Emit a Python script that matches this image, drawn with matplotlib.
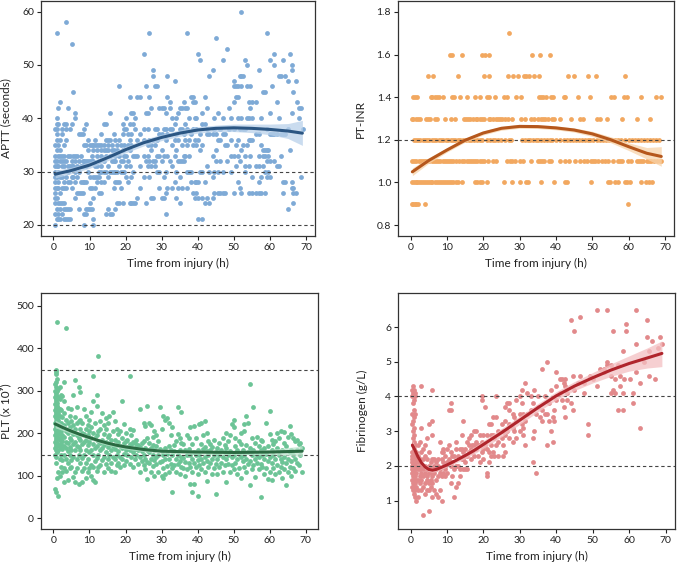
import numpy as np
import matplotlib
matplotlib.use("Agg")
import matplotlib.pyplot as plt

plt.rcParams['font.family'] = ['Lato', 'DejaVu Sans']

# ---- APTT (seconds): (time, [values at that time])
aptt_groups = [
    (0.4, [20, 22, 24, 25, 26, 27, 28, 29, 30, 31, 32, 33, 35, 38]),
    (0.9, [21, 23, 25, 27, 29, 31, 32, 34, 36, 37, 38, 39, 40, 56]),
    (1.4, [21, 22, 24, 27, 28, 30, 31, 33, 35, 39, 42]),
    (1.9, [21, 23, 24, 26, 29, 32, 33, 34, 36, 43]),
    (2.5, [22, 24, 27, 29, 31, 32, 33, 37, 38]),
    (3.0, [21, 23, 24, 27, 28, 31, 32, 33, 35, 39]),
    (3.6, [21, 23, 27, 29, 32, 36, 38, 39, 58]),
    (4.1, [21, 23, 28, 30, 31, 33, 42]),
    (4.6, [21, 23, 28, 31, 33, 38]),
    (5.1, [27, 29, 31, 32, 39, 54]),
    (5.5, [29, 31, 33, 45]),
    (6.1, [25, 28, 30, 32, 33, 40, 41]),
    (6.6, [26, 29, 31, 33]),
    (7.1, [23, 26, 30, 32, 37]),
    (7.6, [26, 28, 31, 33, 37]),
    (8.1, [26, 28, 31, 32, 37]),
    (8.6, [20, 22, 28, 32, 35, 38]),
    (9.1, [22, 23, 28, 31, 32, 35, 39]),
    (9.6, [23, 30, 32, 34, 36]),
    (10.1, [24, 23, 27, 29, 32, 35]),
    (10.6, [23, 27, 32, 33, 35]),
    (11.1, [20, 21, 25, 29, 32, 34, 35]),
    (11.6, [27, 29, 31, 35, 36]),
    (12.1, [28, 29, 31, 33, 34, 35]),
    (12.6, [26, 29, 30, 32, 35]),
    (13.2, [26, 28, 30, 31, 33, 34, 35, 37]),
    (14.0, [28, 30, 32, 34, 35, 39]),
    (14.6, [22, 30, 33, 34, 36, 39]),
    (15.1, [23, 29, 31, 34, 35, 36]),
    (15.6, [22, 30, 33, 36, 41]),
    (16.1, [22, 30, 32, 34, 35]),
    (16.7, [27, 30, 32, 34, 37]),
    (17.2, [23, 28, 30, 32, 33, 36]),
    (17.6, [24, 28, 30, 34, 35]),
    (18.1, [24, 28, 31, 33, 36, 46]),
    (18.7, [27, 30, 32, 35]),
    (19.2, [24, 30, 32, 34, 37, 39]),
    (19.6, [30, 33, 35, 38]),
    (20.1, [29, 31, 33, 38, 40]),
    (20.6, [28, 32, 35, 37]),
    (21.1, [24, 31, 34, 36, 39, 44]),
    (21.6, [24, 29, 35, 37, 41]),
    (22.1, [24, 30, 33, 39, 41]),
    (22.7, [24, 33, 38, 40]),
    (23.2, [25, 33, 36, 44]),
    (24.1, [27, 31, 37, 44]),
    (25.0, [29, 33, 36, 38, 52]),
    (25.6, [24, 32, 41, 46]),
    (26.1, [31, 33, 35, 38, 41]),
    (26.6, [29, 32, 36, 44, 56]),
    (27.1, [25, 31, 34, 35, 42]),
    (27.6, [25, 32, 36, 48, 49]),
    (28.1, [31, 32, 35, 38, 46]),
    (28.7, [30, 33, 36, 38, 46]),
    (29.2, [27, 30, 33, 37, 42]),
    (30.0, [25, 32, 34, 37, 42]),
    (30.6, [25, 29, 33, 38, 42]),
    (31.1, [22, 26, 30, 36, 38, 41]),
    (31.6, [27, 33, 37, 44, 48]),
    (32.2, [32, 38, 42, 43]),
    (33.0, [27, 31, 35, 38, 40]),
    (33.6, [28, 33, 36, 39, 47]),
    (34.1, [25, 30, 34, 37, 40]),
    (34.6, [27, 32, 36, 41]),
    (35.1, [24, 29, 32, 38, 42]),
    (35.6, [27, 32, 35, 38, 42]),
    (36.1, [32, 33, 37, 43]),
    (36.6, [33, 36, 39, 42]),
    (37.1, [27, 30, 35, 38, 42, 56]),
    (37.6, [30, 33, 36, 40]),
    (38.1, [28, 30, 37, 44]),
    (38.6, [26, 35, 38, 43, 44]),
    (39.1, [25, 28, 36, 40, 43]),
    (39.6, [26, 28, 35, 38, 40]),
    (40.1, [21, 25, 28, 36, 52]),
    (40.6, [30, 34, 37, 51]),
    (41.1, [21, 25, 30, 35, 39, 41]),
    (42.1, [24, 28, 39, 44]),
    (42.6, [25, 31, 37, 38, 42]),
    (43.1, [24, 30, 37, 48]),
    (44.1, [25, 29, 33, 37, 49]),
    (44.6, [26, 30, 38, 40]),
    (45.1, [32, 34, 37, 55]),
    (45.6, [26, 30, 36, 41]),
    (46.1, [26, 32, 36, 38]),
    (47.1, [26, 30, 37, 40, 51]),
    (47.6, [26, 35, 37]),
    (48.1, [32, 35, 53]),
    (48.6, [38, 42]),
    (49.1, [30, 33, 36, 40]),
    (50.0, [26, 33, 38, 43, 46, 47]),
    (50.6, [31, 35, 44, 46]),
    (51.1, [28, 33, 36, 40, 44, 46]),
    (51.6, [27, 32, 38, 48]),
    (52.1, [26, 34, 40, 46, 48, 60]),
    (52.6, [35, 38, 48]),
    (53.1, [30, 31, 33, 38, 51]),
    (53.6, [35, 40, 46, 50]),
    (54.1, [26, 31, 36, 40, 43]),
    (54.6, [33, 36, 42, 46]),
    (55.1, [26, 29, 36, 40, 43]),
    (56.1, [26, 31, 37, 43]),
    (57.1, [26, 28, 31, 33, 37, 49]),
    (57.6, [26, 29, 35, 40]),
    (58.1, [31, 33, 34, 45]),
    (58.6, [26, 30, 33, 34, 45]),
    (59.1, [29, 32, 34, 38, 56]),
    (59.6, [30, 33, 34]),
    (60.1, [29, 32, 37, 41, 51]),
    (60.6, [37, 46]),
    (61.1, [32, 37, 50, 52]),
    (62.0, [31, 37, 43]),
    (62.6, [31, 40, 48]),
    (63.1, [33, 37, 48]),
    (63.6, [26, 28, 37, 51]),
    (64.1, [28, 37, 48]),
    (65.0, [23, 38, 47]),
    (65.6, [34, 52]),
    (66.0, [27, 28, 41, 49, 50]),
    (66.5, [24, 26, 27, 45]),
    (67.1, [26, 47]),
    (67.6, [43]),
    (68.1, [40, 42]),
    (68.6, [29, 42]),
    (69.1, [38]),
]
aptt_fit_t = [0.5, 5, 10, 15, 20, 25, 30, 35, 40, 45, 50, 55, 60, 65, 69]
aptt_fit = [29.5, 30.2, 31.2, 32.6, 34.1, 35.4, 36.4, 37.2, 37.8, 38.1, 38.2, 38.1, 37.9, 37.6, 37.2]
aptt_lo = [28.8, 29.6, 30.6, 32.0, 33.5, 34.8, 35.8, 36.6, 37.2, 37.5, 37.5, 37.3, 36.9, 36.2, 34.9]
aptt_hi = [30.2, 30.8, 31.8, 33.2, 34.7, 36.0, 37.0, 37.8, 38.4, 38.7, 38.9, 38.9, 38.9, 39.0, 39.6]

# ---- PT-INR: (value, [times]) -- values are reported on a 0.1 grid
inr_rows = [
    (1.7, [27.1]),
    (1.6, [10.8, 11.4, 14.2, 19.8, 20.4, 21.6, 33.4, 35.6, 38.3]),
    (1.5, [4.7, 6.2, 13.0, 20.1, 21.7, 26.7, 28.2, 29.7, 31.1, 31.8, 32.5, 34.0, 35.3,
           43.4, 45.1, 48.8, 51.1, 59.1]),
    (1.4, [0.6, 1.2, 1.8, 5.5, 5.9, 6.6, 7.2, 7.8, 8.8, 11.4, 11.9, 13.6, 15.4, 17.7,
           19.1, 21.1, 21.6, 23.3, 25.8, 26.5, 28.9, 30.5, 35.4, 35.9, 36.4, 37.2, 38.6,
           39.2, 42.1, 42.6, 46.2, 49.5, 55.3, 56.0, 58.8, 59.5, 63.4, 67.6, 68.9]),
    (1.3, [0.3, 0.8, 1.5, 2.1, 2.6, 4.2, 4.8, 5.4, 6.7, 7.2, 9.6, 11.2, 12.3, 14.7,
           15.3, 15.8, 16.5, 17.2, 17.9, 18.4, 19.0, 19.6, 20.3, 21.5, 22.0, 22.8, 23.4,
           24.1, 24.7, 25.3, 26.0, 26.8, 27.9, 30.5, 31.6, 33.2, 34.0, 35.2, 35.8, 36.5,
           37.1, 37.8, 38.8, 39.5, 41.2, 44.2, 46.7, 47.4, 51.3, 52.0, 54.0, 58.3, 62.4, 66.0]),
    (1.2, [0.9, 1.5, 2.0, 2.6, 3.3, 4.0, 4.6, 5.2, 5.9, 6.5, 7.1, 7.8, 8.4, 9.0, 9.7,
           10.3, 11.0, 11.6, 12.3, 13.0, 13.6, 14.5, 15.2, 16.0, 16.6, 17.5, 18.3, 19.0,
           19.8, 21.0, 21.8, 22.6, 23.3, 24.2, 25.0, 26.0, 27.0, 27.7, 30.8, 31.5, 32.2,
           33.0, 33.7, 34.5, 35.2, 36.0, 36.8, 37.5, 38.3, 39.0, 40.0, 41.0, 42.3, 43.0,
           43.8, 44.7, 45.5, 46.3, 47.2, 48.0, 48.7, 49.5, 50.3, 51.2, 52.0, 53.0, 53.8,
           54.6, 55.5, 56.3, 57.2, 58.0, 59.0, 60.0, 61.0, 61.8, 62.6, 63.4, 64.2, 65.0,
           65.8, 66.7, 67.5, 68.3]),
    (1.1, [0.4, 1.0, 1.6, 2.2, 2.8, 3.4, 4.0, 4.6, 5.2, 5.8, 6.4, 7.0, 7.6, 8.2, 8.8,
           9.4, 10.0, 10.6, 11.2, 11.8, 12.6, 13.4, 14.1, 14.8, 15.4, 16.0, 16.6, 17.2,
           17.8, 18.4, 19.0, 19.6, 20.3, 21.2, 22.8, 23.5, 26.6, 27.3, 28.0, 28.8, 30.2,
           31.0, 33.2, 35.0, 35.6, 36.2, 36.8, 38.0, 38.7, 41.2, 42.6, 43.6, 45.3, 46.6,
           47.8, 48.5, 49.6, 50.1, 50.8, 51.5, 52.8, 53.5, 54.3, 55.8, 57.0, 57.6, 58.2,
           59.8, 60.7, 62.2, 62.8, 63.5, 64.0, 65.0, 65.6, 66.2, 67.1, 67.8, 68.6, 69.0]),
    (1.0, [0.4, 0.9, 1.4, 1.9, 2.4, 2.9, 3.4, 3.9, 4.4, 5.0, 5.5, 6.0, 6.6, 7.2, 7.7,
           8.3, 8.8, 9.4, 10.0, 10.6, 11.2, 11.8, 12.4, 13.0, 14.2, 17.7, 18.3, 19.0,
           19.6, 21.0, 25.6, 27.8, 30.0, 31.7, 32.3, 35.8, 39.6, 42.4, 43.0, 49.6, 54.3,
           55.0, 56.3, 57.0, 59.0, 59.7, 60.3, 63.5, 64.9, 65.7, 66.5]),
    (0.9, [0.3, 0.7, 1.1, 1.6, 2.1, 4.1, 59.8]),
]
inr_fit_t = [0.5, 5, 10, 15, 20, 25, 30, 35, 40, 45, 50, 55, 60, 65, 69]
inr_fit = [1.05, 1.103, 1.152, 1.198, 1.232, 1.254, 1.263, 1.262, 1.256, 1.246, 1.228, 1.201, 1.168, 1.137, 1.122]
inr_lo = [1.032, 1.09, 1.142, 1.189, 1.223, 1.245, 1.254, 1.253, 1.247, 1.236, 1.216, 1.187, 1.150, 1.110, 1.076]
inr_hi = [1.068, 1.116, 1.162, 1.207, 1.241, 1.263, 1.272, 1.271, 1.265, 1.256, 1.240, 1.215, 1.186, 1.164, 1.168]

# ---- PLT (x10^9): (time, [values])
plt_groups = [
    (0.4, [68, 150, 165, 180, 195, 210, 225, 240, 255, 270, 285, 300, 315]),
    (0.6, [62, 130, 160, 175, 190, 205, 220, 235, 250, 262, 275, 290, 320, 340, 350]),
    (0.8, [145, 170, 185, 200, 215, 230, 245, 258, 268, 280, 295, 310, 345]),
    (1.0, [95, 155, 178, 192, 208, 222, 238, 252, 265, 272, 300, 328, 462]),
    (1.3, [52, 110, 160, 172, 188, 200, 215, 232, 248, 260, 285, 305]),
    (1.7, [100, 140, 168, 185, 198, 212, 240, 258, 280, 310]),
    (2.1, [120, 150, 175, 190, 205, 225, 255, 290]),
    (2.5, [108, 138, 162, 182, 195, 215, 238, 288]),
    (3.0, [85, 118, 150, 170, 192, 220, 248, 275, 320]),
    (3.5, [112, 140, 165, 180, 205, 232, 447]),
    (4.0, [90, 130, 158, 178, 200, 225, 260]),
    (4.5, [118, 150, 168, 190, 215, 240]),
    (5.0, [120, 138, 160, 185, 205, 228, 258]),
    (5.5, [98, 145, 175, 198, 220, 290]),
    (6.0, [85, 110, 160, 180, 210, 238, 326]),
    (6.5, [118, 140, 170, 195, 225, 262]),
    (7.0, [82, 150, 168, 190, 228, 310]),
    (7.5, [130, 160, 185, 210, 232, 298]),
    (8.0, [85, 112, 142, 175, 200, 225]),
    (8.5, [118, 148, 180, 198, 258]),
    (9.0, [95, 130, 160, 185, 210, 240]),
    (9.5, [110, 140, 172, 195, 220]),
    (10.0, [118, 155, 180, 205, 232]),
    (10.5, [100, 125, 160, 190, 215, 250]),
    (11.0, [90, 120, 148, 175, 200, 275, 335]),
    (11.5, [85, 135, 165, 190, 225]),
    (12.0, [112, 142, 170, 195, 265, 290]),
    (12.4, [120, 150, 182, 205, 383]),
    (13.0, [125, 160, 178, 210, 228]),
    (13.5, [138, 165, 185, 248]),
    (14.0, [110, 145, 172, 198, 220]),
    (14.5, [128, 155, 180, 210, 235]),
    (15.0, [118, 140, 168, 192, 225]),
    (15.5, [150, 175, 195, 240]),
    (16.0, [112, 130, 160, 185]),
    (16.5, [145, 170, 205, 250]),
    (17.0, [108, 140, 162, 185, 228]),
    (17.5, [125, 150, 172, 210]),
    (18.0, [130, 158, 180, 198]),
    (18.5, [120, 145, 170, 205]),
    (19.0, [140, 165, 190, 275]),
    (19.5, [125, 152, 178, 222]),
    (20.0, [135, 160, 182, 200]),
    (20.5, [150, 168, 185]),
    (21.2, [128, 160, 175, 210, 334]),
    (21.6, [145, 172, 195]),
    (22.0, [120, 155, 180, 208]),
    (22.5, [140, 162, 178]),
    (23.0, [150, 168, 185]),
    (23.5, [128, 160, 172]),
    (24.0, [110, 145, 168, 258]),
    (24.5, [135, 158, 178]),
    (25.0, [125, 150, 182, 225]),
    (25.5, [115, 140, 165, 218]),
    (26.0, [92, 132, 160, 190, 265]),
    (26.5, [130, 155, 178, 225]),
    (27.0, [110, 140, 165, 220]),
    (27.5, [122, 150, 172, 192]),
    (28.0, [100, 138, 160, 205]),
    (28.5, [128, 145, 170, 195]),
    (29.0, [110, 150, 182]),
    (29.5, [132, 162, 262]),
    (30.0, [100, 135, 158, 210]),
    (30.5, [95, 118, 150, 240]),
    (31.0, [105, 140, 165, 232]),
    (31.5, [122, 152, 235]),
    (32.0, [110, 140, 170, 225]),
    (32.5, [128, 160, 195]),
    (33.0, [62, 118, 148, 215]),
    (33.5, [125, 158, 172]),
    (34.0, [110, 140, 182]),
    (34.5, [128, 150, 198, 262]),
    (35.0, [105, 135, 160, 188]),
    (35.5, [120, 145, 178, 250]),
    (36.0, [118, 142, 175]),
    (36.5, [100, 132, 160]),
    (37.0, [115, 150, 195]),
    (37.5, [130, 162, 188]),
    (38.0, [82, 120, 148, 215]),
    (38.5, [62, 108, 140, 175]),
    (39.0, [80, 130, 155, 218]),
    (39.5, [120, 150, 190]),
    (40.0, [52, 105, 138, 160]),
    (40.5, [125, 150, 222]),
    (41.0, [115, 140, 175, 225]),
    (41.5, [130, 162, 195]),
    (42.0, [110, 145, 168, 230]),
    (42.5, [88, 135, 158, 200]),
    (43.0, [120, 150, 182]),
    (43.5, [130, 160, 175]),
    (44.0, [105, 140, 168]),
    (44.5, [118, 150, 185]),
    (45.0, [57, 128, 155]),
    (45.5, [105, 140, 165]),
    (46.0, [120, 150, 178]),
    (46.5, [130, 160]),
    (47.0, [110, 145, 188]),
    (47.5, [125, 155, 172]),
    (48.0, [85, 140, 165, 200]),
    (48.5, [128, 150, 182]),
    (49.0, [110, 158, 195]),
    (49.5, [125, 145, 222]),
    (50.0, [115, 150, 215, 232]),
    (50.5, [130, 170, 188]),
    (51.0, [105, 140, 160]),
    (51.5, [118, 152, 182]),
    (52.0, [95, 145, 175, 200]),
    (52.5, [135, 160]),
    (53.0, [120, 150, 205, 222]),
    (53.5, [110, 140, 172, 240]),
    (54.0, [128, 155, 225]),
    (54.6, [78, 135, 165, 315]),
    (55.0, [115, 148, 188]),
    (55.5, [125, 160, 262]),
    (56.0, [98, 140, 178]),
    (56.5, [130, 150, 192]),
    (57.0, [115, 145, 170]),
    (57.6, [50, 128, 160, 185]),
    (58.0, [120, 150, 182]),
    (58.5, [105, 140, 165]),
    (59.0, [118, 152, 225]),
    (59.5, [92, 135, 170]),
    (60.0, [110, 145, 198, 252]),
    (60.5, [90, 130, 160, 185]),
    (61.0, [118, 150, 175]),
    (61.5, [105, 140, 182]),
    (62.0, [125, 165, 200]),
    (62.5, [110, 150, 190]),
    (63.0, [120, 140, 205]),
    (63.5, [95, 132, 160]),
    (64.0, [115, 145, 178, 202]),
    (64.5, [78, 130, 170]),
    (65.0, [108, 140, 192]),
    (65.5, [120, 155, 218]),
    (66.0, [100, 135, 160, 198]),
    (66.5, [118, 148, 188]),
    (67.0, [112, 140, 182]),
    (67.5, [130, 160, 185]),
    (68.0, [125, 175]),
    (68.5, [150, 178]),
    (69.0, [110, 165]),
]
plt_fit_t = [0.5, 2.5, 5, 7.5, 10, 12.5, 15, 17.5, 20, 25, 30, 35, 40, 50, 60, 69]
plt_fit = [222, 214, 205, 197, 190, 183, 177, 172, 168, 162, 158, 157, 156, 155, 156, 158]
plt_lo = [213, 207, 199, 192, 185, 178, 172, 167, 163, 157, 153, 152, 151, 150, 150, 146]
plt_hi = [231, 221, 211, 202, 195, 188, 182, 177, 173, 167, 163, 162, 161, 160, 162, 170]

# ---- Fibrinogen (g/L): (time, [values])
fib_groups = [
    (0.3, [1.4, 1.6, 1.8, 1.9, 2.0, 2.1, 2.2, 2.3, 2.4, 3.2, 3.5, 4.0, 4.2]),
    (0.6, [1.3, 1.5, 1.7, 1.85, 1.95, 2.05, 2.15, 2.3, 2.6, 2.8, 3.0, 3.3, 3.8, 4.1, 4.3]),
    (0.9, [1.2, 1.4, 1.6, 1.8, 1.9, 2.0, 2.2, 2.4, 2.5, 2.7, 2.9, 3.1, 3.4, 3.6, 3.9, 4.2]),
    (1.2, [1.1, 1.3, 1.5, 1.7, 1.9, 2.0, 2.1, 2.3, 2.6, 3.5, 4.0, 4.1]),
    (1.6, [1.0, 1.4, 1.6, 1.8, 2.0, 2.2, 2.4]),
    (2.0, [1.1, 1.3, 1.6, 1.9, 2.1, 2.3, 2.6]),
    (2.5, [1.5, 1.7, 1.9, 2.0, 2.2, 2.7]),
    (3.0, [1.3, 1.6, 1.8, 2.0, 2.4, 3.1, 4.3]),
    (3.5, [0.6, 1.4, 1.7, 1.9, 2.2, 2.5]),
    (4.0, [1.2, 1.5, 1.8, 2.0, 2.3, 2.6]),
    (4.5, [1.3, 1.6, 1.7, 1.9, 2.2, 2.8]),
    (5.0, [0.7, 1.3, 1.5, 1.8, 2.0, 2.4, 3.2]),
    (5.5, [1.4, 1.6, 1.9, 2.1]),
    (6.0, [1.1, 1.5, 1.7, 1.8, 2.2, 2.9, 3.3, 4.2]),
    (6.5, [1.3, 1.8, 2.0, 2.2]),
    (7.0, [1.2, 1.6, 1.9, 2.1]),
    (7.5, [1.1, 1.7, 2.0, 2.2]),
    (8.0, [1.3, 1.8, 1.9, 2.7]),
    (8.5, [1.0, 1.7, 2.2, 2.4]),
    (9.0, [1.8, 2.1, 2.4, 2.5]),
    (9.5, [1.7, 1.9, 2.0, 2.3]),
    (10.0, [1.8, 2.1, 2.5]),
    (10.5, [2.2, 2.6, 3.6]),
    (11.0, [1.5, 2.0, 2.4, 3.6, 3.8]),
    (11.5, [1.7, 2.1, 2.3]),
    (12.0, [1.1, 1.9, 2.3]),
    (12.5, [1.4, 2.0, 2.5, 2.7]),
    (13.0, [1.5, 2.0, 2.3]),
    (13.5, [1.7, 1.9, 2.5]),
    (14.0, [2.2, 2.5, 2.9]),
    (14.5, [1.9, 2.2, 2.4, 3.3]),
    (15.0, [1.9, 2.1, 2.3, 2.5]),
    (15.5, [1.9, 2.3, 2.7]),
    (16.0, [2.4, 2.6, 2.8]),
    (16.5, [2.2, 2.5, 2.9]),
    (17.0, [2.4, 2.6]),
    (17.5, [2.3, 2.6, 3.0]),
    (18.0, [2.5, 2.7, 3.0]),
    (18.5, [2.3, 2.6]),
    (19.0, [2.1, 2.6, 2.9]),
    (19.5, [2.4, 2.7, 3.9, 4.0]),
    (20.0, [2.2, 2.5, 2.9]),
    (20.5, [2.6, 3.7]),
    (21.0, [1.7, 1.8, 2.5, 2.9]),
    (21.5, [2.1, 2.4, 3.2]),
    (22.0, [2.3, 2.6, 2.9, 3.2]),
    (22.5, [2.4, 2.9, 3.4]),
    (23.0, [2.3, 2.8]),
    (23.5, [2.6, 3.4, 4.0]),
    (24.0, [2.3, 2.7, 3.0]),
    (25.0, [2.8, 3.2]),
    (25.5, [2.3, 2.6, 3.0]),
    (26.0, [2.4, 2.9, 3.3, 3.7]),
    (26.5, [3.0, 3.8]),
    (27.0, [2.8, 3.2, 3.6, 3.8]),
    (28.0, [2.7, 3.1, 3.5]),
    (28.5, [3.0, 3.4]),
    (29.0, [2.8, 3.3, 3.9]),
    (30.0, [3.0, 3.5, 4.0]),
    (30.5, [3.2, 3.8, 4.2]),
    (31.0, [2.9, 3.1, 3.5]),
    (31.5, [2.6, 3.3, 4.4]),
    (32.0, [3.5, 4.1]),
    (33.0, [3.6, 4.0]),
    (33.5, [2.1, 2.8, 3.8]),
    (34.0, [3.0, 4.2]),
    (34.5, [1.8, 3.5]),
    (35.0, [3.7, 4.0]),
    (35.5, [3.4]),
    (36.0, [3.3, 3.6, 4.8]),
    (37.0, [3.5, 4.0]),
    (37.5, [2.6, 3.5, 5.0]),
    (38.0, [3.3, 3.8]),
    (38.5, [3.0, 4.2]),
    (39.0, [2.7, 3.4]),
    (39.5, [3.3, 3.6]),
    (40.0, [3.9, 4.3, 4.7]),
    (41.0, [4.1, 4.5]),
    (41.5, [3.9, 4.5]),
    (42.0, [3.7, 4.4]),
    (42.5, [3.4, 4.3, 4.5]),
    (43.0, [3.9, 4.1]),
    (44.0, [3.8, 6.2]),
    (44.5, [3.6, 4.6]),
    (45.0, [4.2, 5.9]),
    (46.0, [4.4]),
    (46.6, [4.6, 6.3]),
    (47.5, [4.1, 4.4]),
    (48.8, [2.9, 3.2]),
    (49.2, [4.6]),
    (50.0, [4.5]),
    (51.2, [4.3, 6.5]),
    (52.0, [4.8]),
    (53.0, [4.7, 4.8]),
    (54.0, [4.9, 5.0, 6.5]),
    (55.0, [4.1, 4.6, 4.9]),
    (55.6, [4.2, 5.9]),
    (56.2, [4.1, 4.5]),
    (57.0, [3.6, 4.9]),
    (57.6, [4.3, 4.6]),
    (58.2, [3.6, 4.1, 5.3]),
    (58.7, [4.5]),
    (59.2, [5.9, 6.1]),
    (60.3, [4.5]),
    (61.0, [3.8, 4.1]),
    (62.0, [4.7, 5.5, 6.5]),
    (63.0, [3.1, 4.4]),
    (64.0, [5.0]),
    (65.0, [5.7, 6.2]),
    (65.5, [4.6, 5.3]),
    (66.2, [5.6]),
    (67.0, [4.5]),
    (68.0, [5.4]),
    (68.6, [5.7]),
    (69.0, [5.5]),
]
fib_fit_t = [0.5, 1, 2, 3, 4, 5, 6, 7, 8, 10, 12.5, 15, 17.5, 20, 25, 30, 35, 40, 45, 50, 55, 60, 65, 69]
fib_fit = [2.6, 2.5, 2.27, 2.09, 1.97, 1.9, 1.88, 1.9, 1.94, 2.03, 2.16, 2.3, 2.45, 2.62, 2.96, 3.32, 3.68, 4.02, 4.3, 4.54, 4.76, 4.95, 5.11, 5.24]
fib_lo = [2.47, 2.39, 2.18, 2.01, 1.9, 1.84, 1.82, 1.84, 1.88, 1.97, 2.09, 2.21, 2.35, 2.51, 2.84, 3.2, 3.56, 3.9, 4.17, 4.39, 4.58, 4.73, 4.82, 4.86]
fib_hi = [2.73, 2.61, 2.36, 2.17, 2.04, 1.96, 1.94, 1.96, 2.0, 2.09, 2.23, 2.39, 2.55, 2.73, 3.08, 3.44, 3.8, 4.14, 4.43, 4.69, 4.94, 5.17, 5.4, 5.6]


def flatten_groups(groups):
    xs = [x for x, ys in groups for _ in ys]
    ys = [y for _, yy in groups for y in yy]
    return xs, ys


def flatten_rows(rows):
    xs = [x for _, xx in rows for x in xx]
    ys = [y for y, xx in rows for _ in xx]
    return xs, ys


fig = plt.figure(figsize=(6.77, 5.63), dpi=100)
W, H = 677, 563


def add_axes(x0, y0, x1, y1):
    return fig.add_axes([x0 / W, 1 - y1 / H, (x1 - x0) / W, (y1 - y0) / H])


panels = [
    dict(ax=add_axes(41, 1, 315, 236), pts=flatten_groups(aptt_groups),
         fit=(aptt_fit_t, aptt_fit, aptt_lo, aptt_hi),
         pc='#7eaad6', lc='#2b5683', bc='#b9d1ea',
         xlim=(-3.45, 72.5), ylim=(17.9, 62.0), yticks=[20, 30, 40, 50, 60],
         ref=[20, 30], ylabel='APTT (seconds)', fmt='{:.0f}', labx=-0.108),
    dict(ax=add_axes(398, 1, 674, 236), pts=flatten_rows(inr_rows),
         fit=(inr_fit_t, inr_fit, inr_lo, inr_hi),
         pc='#f2a860', lc='#b5571c', bc='#f8d3aa',
         xlim=(-3.45, 72.5), ylim=(0.749, 1.851), yticks=[0.8, 1.0, 1.2, 1.4, 1.6, 1.8],
         ref=[1.2], ylabel='PT-INR', fmt='{:.1f}', labx=-0.118),
    dict(ax=add_axes(41, 293, 318, 529), pts=flatten_groups(plt_groups),
         fit=(plt_fit_t, plt_fit, plt_lo, plt_hi),
         pc='#6cc496', lc='#2a6a42', bc='#bfe5cf',
         xlim=(-3.45, 73.4), ylim=(-25, 530), yticks=[0, 100, 200, 300, 400, 500],
         ref=[150, 350], ylabel='PLT (x 10\u2079)', fmt='{:.0f}', labx=-0.108),
    dict(ax=add_axes(398, 293, 675, 529), pts=flatten_groups(fib_groups),
         fit=(fib_fit_t, fib_fit, fib_lo, fib_hi),
         pc='#e2898b', lc='#b0252c', bc='#f4c0c2',
         xlim=(-3.45, 72.6), ylim=(0.185, 6.98), yticks=[1, 2, 3, 4, 5, 6],
         ref=[2, 4], ylabel='Fibrinogen (g/L)', fmt='{:.0f}', labx=-0.108),
]

for p in panels:
    ax = p['ax']
    xs, ys = p['pts']
    ax.scatter(xs, ys, s=12, color=p['pc'], linewidths=0, zorder=2)
    for r in p['ref']:
        ax.axhline(r, color='#444444', lw=0.8, ls=(0, (3, 2.5)), zorder=3)
    ft, fy, flo, fhi = p['fit']
    ax.fill_between(ft, flo, fhi, color=p['bc'], alpha=0.75, lw=0, zorder=4)
    ax.plot(ft, fy, color=p['lc'], lw=2.2, solid_capstyle='round', zorder=5)
    ax.set_xlim(*p['xlim'])
    ax.set_ylim(*p['ylim'])
    ax.set_xticks([0, 10, 20, 30, 40, 50, 60, 70])
    ax.set_yticks(p['yticks'])
    ax.set_yticklabels([p['fmt'].format(v) for v in p['yticks']])
    ax.set_xlabel('Time from injury (h)', fontsize=8.5, color='#222222', labelpad=4)
    ax.set_ylabel(p['ylabel'], fontsize=8.5, color='#222222')
    ax.yaxis.set_label_coords(p['labx'], 0.5)
    ax.tick_params(labelsize=7.5, colors='#222222', length=3, width=0.8, pad=2)
    for s in ax.spines.values():
        s.set_color('#333333')
        s.set_linewidth(0.9)

fig.savefig('out.png', dpi=100)
